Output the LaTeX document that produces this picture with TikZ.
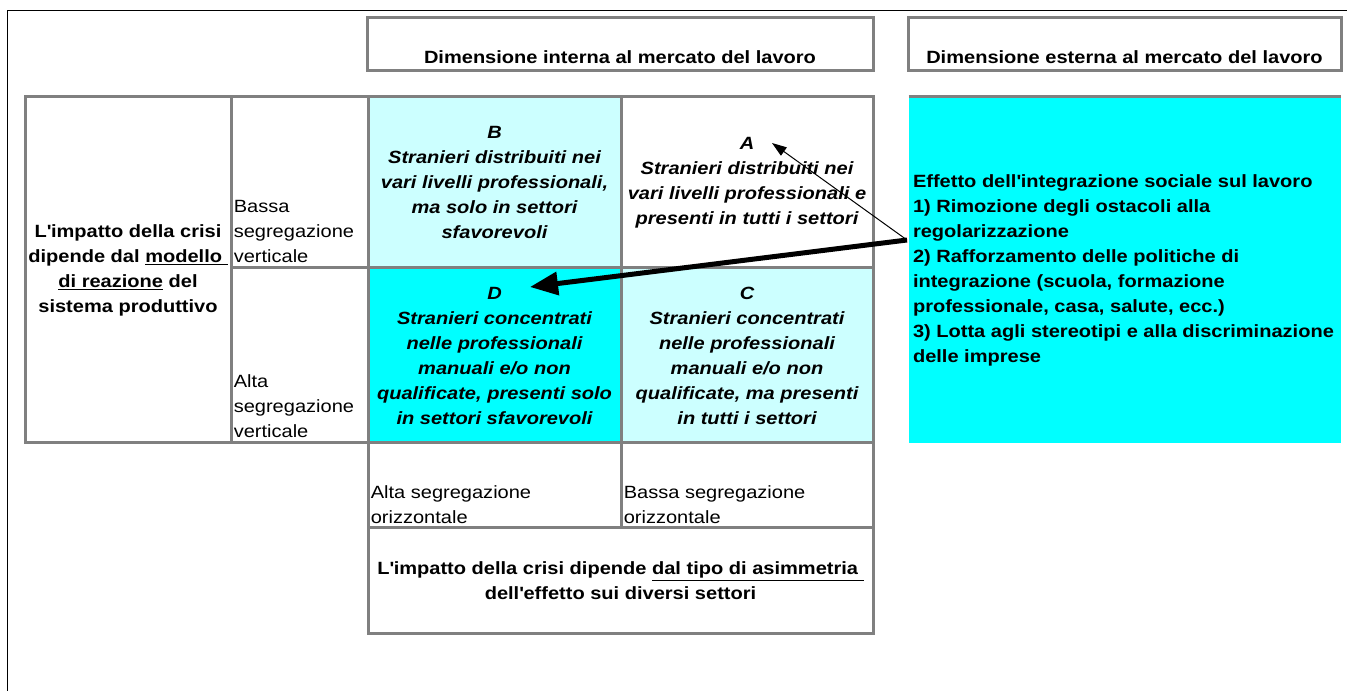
\documentclass[tikz,border=0pt]{standalone}
\usepackage{fontspec}
\setmainfont{Liberation Sans}[FakeStretch=1.13]
\usepackage{tikz}
\usetikzlibrary{arrows.meta,positioning}

\definecolor{grigio}{HTML}{808080}
\definecolor{azzurro}{HTML}{CCFFFF}
\definecolor{ciano}{HTML}{00FFFF}
\newcommand{\apostr}{\textquotesingle}

\begin{document}
\begin{tikzpicture}
		[x=0.75pt,y=-0.75pt,font=\fontsize{13.3}{18.75}\selectfont,
		cella/.style={draw=grigio,line width=2.25pt,rectangle,inner sep=0pt},
		corsivo/.style={align=center,font=\fontsize{13.3}{18.75}\selectfont\bfseries\itshape},
		grassetto/.style={align=center,font=\fontsize{13.3}{18.75}\selectfont\bfseries},
		angolo/.style={anchor=south west,align=left,inner xsep=3pt,inner ysep=5pt}]
		\useasboundingbox (0,0) rectangle (1347,691);
		\draw[line width=0.75pt] (1347,11) -- (7,11) -- (7,691);
		
		% intestazioni
		\node[cella,minimum width=379.5pt,minimum height=39.75pt] (int) at (620,44.5) {};
		\node[cella,minimum width=324.75pt,minimum height=39.75pt] (est) at (1124.5,44.5) {};
		\node[grassetto,inner sep=0pt,above=6.5pt of int.south] (tint) {Dimensione interna al mercato del lavoro};
		\node[grassetto,inner sep=0pt,above=6.5pt of est.south] (test) {Dimensione esterna al mercato del lavoro};
		
		% griglia
		\node[cella,grassetto,minimum width=154.5pt,minimum height=259.5pt] (impatto) at (128,270)
			{L\apostr impatto della crisi\\dipende dal \underline{modello\ }\\\underline{di reazione} del\\sistema produttivo};
		\node[cella,minimum width=102.75pt,minimum height=128.25pt] (bassaV) at (299.5,182.5) {};
		\node[cella,minimum width=102.75pt,minimum height=131.25pt] (altaV) at (299.5,355.5) {};
		\node[angolo] (tbassaV) at (bassaV.south west) {Bassa\\segregazione\\verticale};
		\node[angolo] (taltaV) at (altaV.south west) {Alta\\segregazione\\verticale};
		
		\node[cella,corsivo,fill=azzurro,minimum width=189.75pt,minimum height=128.25pt] (B) at (494.5,182.5)
			{B\\Stranieri distribuiti nei\\vari livelli professionali,\\ma solo in settori\\sfavorevoli};
		\node[cella,corsivo,minimum width=189pt,minimum height=128.25pt] (A) at (747,182.5)
			{A\\Stranieri distribuiti nei\\vari livelli professionali e\\presenti in tutti i settori};
		\node[cella,corsivo,fill=ciano,minimum width=189.75pt,minimum height=131.25pt] (D) at (494.5,355.5)
			{D\\Stranieri concentrati\\nelle professionali\\manuali e/o non\\qualificate, presenti solo\\in settori sfavorevoli};
		\node[cella,corsivo,fill=azzurro,minimum width=189pt,minimum height=131.25pt] (C) at (747,355.5)
			{C\\Stranieri concentrati\\nelle professionali\\manuali e/o non\\qualificate, ma presenti\\in tutti i settori};
		
		\node[cella,minimum width=189.75pt,minimum height=63.75pt] (altaO) at (494.5,485.5) {};
		\node[cella,minimum width=189pt,minimum height=63.75pt] (bassaO) at (747,485.5) {};
		\node[angolo,inner ysep=4pt] (taltaO) at (altaO.south west) {Alta segregazione\\orizzontale};
		\node[angolo,inner ysep=4pt] (tbassaO) at (bassaO.south west) {Bassa segregazione\\orizzontale};
		\node[cella,grassetto,minimum width=378.75pt,minimum height=78.75pt] (tipo) at (620.5,580.5)
			{L\apostr impatto della crisi dipende \underline{dal tipo di asimmetria\ }\\dell\apostr effetto sui diversi settori};
		
		% effetto esterno
		\node[fill=ciano,inner sep=0pt,minimum width=324pt,minimum height=259.5pt] (effetto) at (1125,270) {};
		\draw[grigio,line width=2.25pt] (effetto.north west) -- (effetto.north east);
		\node[anchor=west,align=left,font=\fontsize{13.3}{18.75}\selectfont\bfseries,inner sep=0pt] (elenco)
			at ([xshift=3pt]effetto.west)
			{Effetto dell\apostr integrazione sociale sul lavoro\\1) Rimozione degli ostacoli alla\\regolarizzazione\\
			2) Rafforzamento delle politiche di\\integrazione (scuola, formazione\\professionale, casa, salute, ecc.)\\
			3) Lotta agli stereotipi e alla discriminazione\\delle imprese};
		
		\coordinate (partenza) at (907,240);
		\coordinate (puntaA) at (772,143);
		\coordinate (puntaD) at (530,287);
		\draw[-{Triangle[length=11pt,width=7.5pt]},line width=0.75pt] (partenza) -- (puntaA);
		\draw[-{Triangle[length=21pt,width=17pt]},line width=3.75pt] (partenza) -- (puntaD);
\end{tikzpicture}
\end{document}
